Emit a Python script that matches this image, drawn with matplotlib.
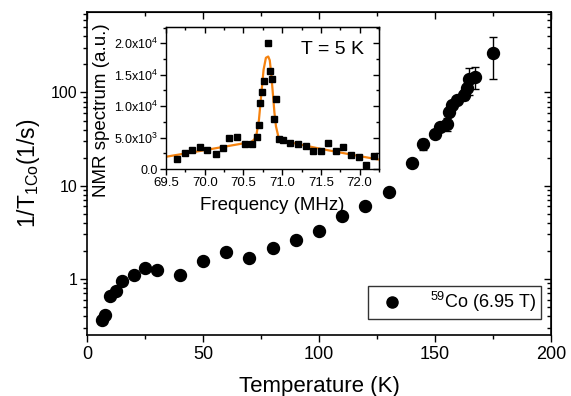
import numpy as np
import matplotlib
matplotlib.use('Agg')
import matplotlib.pyplot as plt
from matplotlib.lines import Line2D
from matplotlib.ticker import MultipleLocator, FuncFormatter, LogLocator, NullFormatter

plt.rcParams['font.family'] = ['Liberation Sans', 'DejaVu Sans']
plt.rcParams['mathtext.fontset'] = 'custom'
plt.rcParams['mathtext.rm'] = 'Liberation Sans'
plt.rcParams['mathtext.it'] = 'Liberation Sans'

# 59Co spin-lattice relaxation rate vs temperature
temp = [6.5, 7.6, 10.1, 12.6, 15.1, 20.1, 25.1, 30.2, 40, 50, 60, 70, 80, 90, 100,
        110, 120, 130, 140, 145, 150, 152.3, 155, 156, 157.3, 159.5, 162.4, 163.8,
        164.5, 167.4, 175]
rate = [0.358, 0.41, 0.65, 0.75, 0.94, 1.10, 1.30, 1.24, 1.09, 1.57, 1.93, 1.69, 2.17,
        2.64, 3.30, 4.7, 6.1, 8.5, 17.5, 27.9, 35.5, 42.5, 46, 61, 74, 83, 94, 111,
        140, 148, 268]
rate_err = [0, 0, 0, 0, 0, 0, 0, 0, 0, 0, 0.15, 0.15, 0, 0, 0,
            0, 0, 0, 0, 4, 0, 0, 7, 0, 0, 0, 11, 0, 45, 40, 130]

# NMR spectrum at 5 K
freq = [69.64, 69.74, 69.84, 69.94, 70.03, 70.14, 70.23, 70.32, 70.42, 70.52, 70.61,
        70.67, 70.70, 70.72, 70.74, 70.77, 70.82, 70.84, 70.87, 70.89, 70.92, 70.96,
        71.01, 71.10, 71.21, 71.31, 71.40, 71.50, 71.59, 71.69, 71.79, 71.89, 71.99,
        72.08, 72.18]
spec = [1580, 2520, 2950, 3580, 2950, 2420, 3310, 5000, 5050, 4000, 4000,
        5100, 7000, 10460, 12220, 13940, 20100, 15600, 14260, 7880, 11100, 4700,
        4630, 4100, 4000, 3680, 2790, 2790, 4210, 2790, 3470, 2210, 1890,
        630, 2000]

# fitted line
fit_freq = [69.5, 70.0, 70.6, 70.64, 70.67, 70.70, 70.73, 70.76, 70.79, 70.82, 70.84,
            70.86, 70.88, 70.90, 70.92, 70.95, 70.98, 71.02, 71.1, 71.5, 72.0, 72.25]
fit_spec = [1950, 3000, 4300, 4700, 5600, 7800, 11800, 15800, 17700, 17900, 17300,
            15000, 12000, 9000, 6800, 5200, 4700, 4450, 4250, 3200, 2050, 1500]

fig = plt.figure(figsize=(5.71, 3.96), dpi=100)
ax = fig.add_axes([0.1524, 0.154, 0.8126, 0.8157])

ax.errorbar(temp, rate, yerr=rate_err, fmt='o', color='black', ms=8.6,
            ecolor='black', elinewidth=1, capsize=3, capthick=1)
ax.set_yscale('log')
ax.set_xlim(0, 200)
ax.set_ylim(0.25, 730)
ax.set_xlabel('Temperature (K)', fontsize=16, labelpad=9)
ax.set_ylabel('1/T$_{\\mathrm{1Co}}$(1/s)', fontsize=16.5, labelpad=6)

ax.xaxis.set_major_locator(MultipleLocator(50))
ax.xaxis.set_minor_locator(MultipleLocator(25))
ax.yaxis.set_major_locator(LogLocator(base=10, numticks=10))
ax.yaxis.set_minor_locator(LogLocator(base=10, subs=np.arange(2, 10), numticks=20))
ax.yaxis.set_major_formatter(FuncFormatter(lambda v, p: f'{v:g}'))
ax.yaxis.set_minor_formatter(NullFormatter())
ax.tick_params(axis='x', which='major', direction='out', length=5, width=1, labelsize=13, pad=3)
ax.tick_params(axis='y', which='major', direction='out', length=5, width=1, labelsize=11.5, pad=2)
ax.tick_params(which='minor', direction='out', length=3, width=1)
for s in ax.spines.values():
    s.set_linewidth(1.2)

# mirrored ticks on top/right pointing inwards
top = ax.secondary_xaxis('top')
top.xaxis.set_major_locator(MultipleLocator(50))
top.xaxis.set_minor_locator(MultipleLocator(25))
top.tick_params(which='major', direction='in', length=5, width=1, labeltop=False)
top.tick_params(which='minor', direction='in', length=3, width=1)
right = ax.secondary_yaxis('right')
right.yaxis.set_major_locator(LogLocator(base=10, numticks=10))
right.yaxis.set_minor_locator(LogLocator(base=10, subs=np.arange(2, 10), numticks=20))
right.tick_params(which='major', direction='in', length=5, width=1, labelright=False)
right.tick_params(which='minor', direction='in', length=3, width=1)
right.yaxis.set_minor_formatter(NullFormatter())

handle = Line2D([], [], ls='none', marker='o', color='black', ms=8)
leg = ax.legend([handle], ['$^{59}$Co (6.95 T)'], loc='lower right',
                bbox_to_anchor=(0.978, 0.05), borderaxespad=0,
                fancybox=False, edgecolor='black', fontsize=13, handletextpad=1.0,
                borderpad=0.25, handlelength=2.2)
leg.get_frame().set_linewidth(1)

# inset: spectrum
ins = fig.add_axes([0.2907, 0.5732, 0.373, 0.3586])
ins.plot(freq, spec, 's', color='black', ms=4.5, zorder=3)
ins.plot(fit_freq, fit_spec, '-', color='#f5820f', lw=1.6, zorder=2)
ins.set_xlim(69.5, 72.25)
ins.set_ylim(0, 22600)
ins.xaxis.set_major_locator(MultipleLocator(0.5))
ins.xaxis.set_minor_locator(MultipleLocator(0.25))
ins.yaxis.set_major_locator(MultipleLocator(5000))
ins.yaxis.set_minor_locator(MultipleLocator(2500))


def sci_fmt(v, p):
    if v <= 0:
        return '0.0' if v == 0 else ''
    e = int(np.floor(np.log10(v)))
    return f'{v / 10**e:.1f}x10$^{{{e}}}$'


ins.yaxis.set_major_formatter(FuncFormatter(sci_fmt))
ins.xaxis.set_major_formatter(FuncFormatter(lambda v, p: f'{v:.1f}'))
ins.tick_params(axis='x', which='major', direction='out', length=4, width=1, labelsize=9.5, pad=1.5)
ins.tick_params(axis='y', which='major', direction='out', length=4, width=1, labelsize=9, pad=1.5)
ins.tick_params(which='minor', direction='out', length=2.5, width=1)
ins.set_xlabel('Frequency (MHz)', fontsize=13.5, labelpad=6)
ins.set_ylabel('NMR spectrum (a.u.)', fontsize=13.5)
ins.yaxis.set_label_coords(-0.262, 0.415)
ins.text(0.93, 0.9, 'T = 5 K', transform=ins.transAxes, ha='right', va='top', fontsize=14)
for s in ins.spines.values():
    s.set_linewidth(1)

itop = ins.secondary_xaxis('top')
itop.xaxis.set_major_locator(MultipleLocator(0.5))
itop.xaxis.set_minor_locator(MultipleLocator(0.25))
itop.tick_params(which='major', direction='in', length=4, width=1, labeltop=False)
itop.tick_params(which='minor', direction='in', length=2.5, width=1)
iright = ins.secondary_yaxis('right')
iright.yaxis.set_major_locator(MultipleLocator(5000))
iright.yaxis.set_minor_locator(MultipleLocator(2500))
iright.tick_params(which='major', direction='in', length=4, width=1, labelright=False)
iright.tick_params(which='minor', direction='in', length=2.5, width=1)

fig.savefig('out.png', dpi=100)
